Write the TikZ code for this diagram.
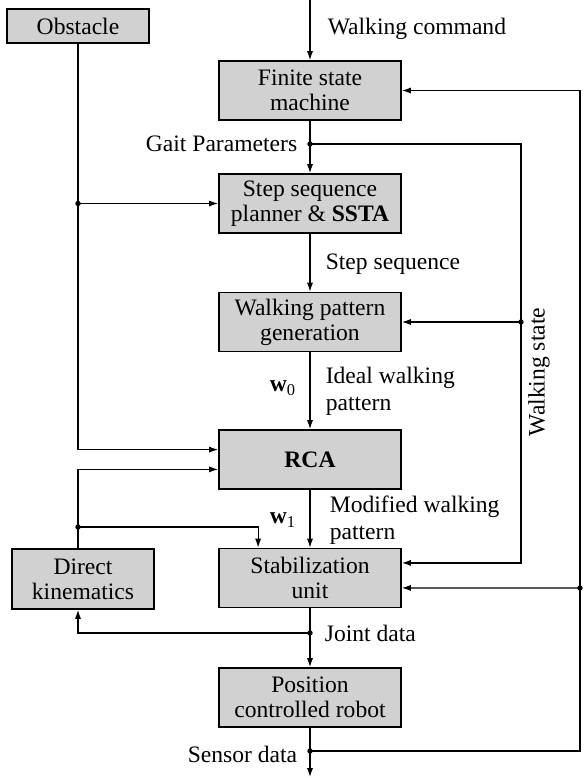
\documentclass[tikz,border=0pt]{standalone}
\usepackage{fontspec}
\setmainfont{Liberation Serif}
\usetikzlibrary{arrows.meta, positioning}

\begin{document}
\begin{tikzpicture}[
    x=0.424pt, y=-0.424pt,
    every node/.style={font=\fontsize{10}{10.5}\selectfont},
    block/.style={rectangle, draw, line width=0.75pt, fill=black!18, align=center,
        minimum width=77.2pt, minimum height=25pt, inner sep=1pt},
    sideblock/.style={block, minimum width=60.2pt},
    lbl/.style={inner sep=1pt, align=left, font=\fontsize{10}{11.5}\selectfont},
    arr/.style={line width=0.5pt, -{Latex[length=3.8pt, width=2.6pt]}},
]

\useasboundingbox (0,0) rectangle (588,778);

% Main chain
\node[block] (fsm) at (310,90.5) {Finite state\\machine};
\node[block] (ssp) at (310,203.5) {Step sequence\\planner \& \textbf{SSTA}};
\node[block] (wpg) at (310,322) {Walking pattern\\generation};
\node[block] (rca) at (310,459.5) {\textbf{RCA}};
\node[block] (stab) at (310,578) {Stabilization\\unit};
\node[block] (robot) at (310,697.5) {Position\\controlled robot};

% Side blocks
\node[sideblock, minimum height=14.4pt] (obst) at (78,26) {Obstacle};
\node[sideblock, minimum height=25.4pt] (dk) at (83,579) {Direct\\kinematics};

% Junctions
\coordinate (cmd) at (310,0);
\coordinate (gait) at (310,144);
\coordinate (obsj) at (78,203.5);
\coordinate (wsj) at (521,322);
\coordinate (w1j) at (78,527);
\coordinate (joint) at (310,633);
\coordinate (sensor) at (310,751);
\coordinate (fbj) at (580,588);
\coordinate (out) at (310,777);
\coordinate (rcain1) at ([yshift=4.2pt]rca.west);
\coordinate (rcain2) at ([yshift=-4.2pt]rca.west);
\coordinate (stabin1) at ([yshift=6.4pt]stab.east);
\coordinate (stabin2) at ([yshift=-4.2pt]stab.east);

% Forward path
\draw[arr] (cmd) -- (fsm);
\draw[arr] (fsm) -- (ssp);
\draw[arr] (ssp) -- (wpg);
\draw[arr] (wpg) -- (rca);
\draw[arr] (rca) -- (stab);
\draw[arr] (stab) -- (robot);
\draw[arr] (robot) -- (out);

% Obstacle
\draw[arr] (obst.south) |- (rcain1);
\draw[arr] (obsj) -- (ssp.west);

% Direct kinematics loop
\draw[arr] (dk.north -| w1j) |- (rcain2);
\draw[arr] (w1j) -| ([xshift=-22pt]stab.north);
\draw[arr] (joint) -| (dk.south -| w1j);

% Walking state
\draw[arr] (gait) -| (wsj) |- (stabin1);
\draw[arr] (wsj) -- (wpg.east);

% Sensor feedback
\draw[arr] (sensor) -| (fbj) |- (fsm.east);
\draw[arr] (fbj) -- (stabin2);

% Branch dots
\foreach \j in {gait, obsj, wsj, w1j, joint, sensor, fbj}
    \fill (\j) circle (1.15pt);

% Labels
\node[lbl, anchor=west] (cmdlbl) at (325,29) {Walking command};
\node[lbl, anchor=east] (gaitlbl) at (300,144) {Gait Parameters};
\node[lbl, anchor=west] (seqlbl) at (323,264) {Step sequence};
\node[lbl, anchor=west] (ideallbl) at (323,391) {Ideal walking\\pattern};
\node[lbl] (w0lbl) at (283,388) {\textbf{w}\textsubscript{0}};
\node[lbl, anchor=west] (modlbl) at (327,520) {Modified walking\\pattern};
\node[lbl] (w1lbl) at (283,520) {\textbf{w}\textsubscript{1}};
\node[lbl, rotate=90] (wslbl) at (539,372) {Walking state};
\node[lbl, anchor=west] (jointlbl) at (322,633) {Joint data};
\node[lbl, anchor=east] (sensorlbl) at (300,754) {Sensor data};

\end{tikzpicture}
\end{document}
